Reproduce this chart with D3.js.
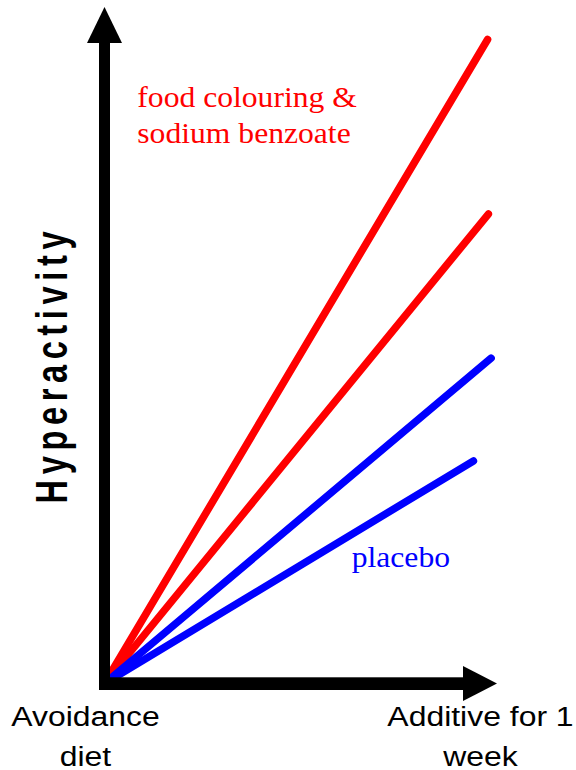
<!DOCTYPE html>
<html>
<head>
<meta charset="utf-8">
<script src="https://cdn.jsdelivr.net/npm/d3@7"></script>
<style>
  html, body { margin: 0; padding: 0; background: #fff; }
  svg { display: block; }
  .sans { font-family: Arial, "Liberation Sans", Arimo, Helvetica, sans-serif; }
  .serif { font-family: "Times New Roman", "Liberation Serif", Tinos, Times, serif; }
</style>
</head>
<body>
<svg id="chart" width="576" height="770"></svg>
<script>
// ---- data ----
const categories = ["Avoidance diet", "Additive for 1 week"];
const categoryLines = [["Avoidance", "diet"], ["Additive for 1", "week"]];
const seriesNames = ["food colouring & sodium benzoate (high)", "food colouring & sodium benzoate (low)", "placebo (high)", "placebo (low)"];
const seriesGroup = ["additive", "additive", "placebo", "placebo"];
const startX = [0, 0, 0, 0];
const startY = [0, 0, 0, 0];
const endX = [0.976, 0.978, 0.985, 0.940];
const endY = [0.952, 0.694, 0.481, 0.329];
const yTitle = "Hyperactivity";
const additiveLabel = ["food colouring &", "sodium benzoate"];
const placeboLabel = ["placebo"];

// ---- layout ----
const W = 576, H = 770;
const x0 = 104.5, y0 = 683.5;
const x = d3.scaleLinear().domain([0, 1]).range([x0, 497]);
const y = d3.scaleLinear().domain([0, 1]).range([y0, 7]);
const colors = { additive: "#ff0000", placebo: "#0000ff" };
const stretch = 1.11;

const svg = d3.select("#chart");
svg.append("rect").attr("width", W).attr("height", H).attr("fill", "#fff");

// lines
const series = seriesNames.map((n, i) => ({
  name: n, group: seriesGroup[i],
  pts: [[startX[i], startY[i]], [endX[i], endY[i]]]
}));
const line = d3.line().x(d => x(d[0])).y(d => y(d[1]));
svg.append("g").selectAll("path")
  .data(series)
  .join("path")
  .attr("d", d => line(d.pts))
  .attr("fill", "none")
  .attr("stroke", d => colors[d.group])
  .attr("stroke-width", 7.5)
  .attr("stroke-linecap", "round");

// axes with arrows
const axes = svg.append("g").attr("fill", "#000");
axes.append("rect").attr("x", 99).attr("y", 42).attr("width", 11).attr("height", 690 - 42);
axes.append("path").attr("d", `M87,43 L122,43 L${x0},7 Z`);
axes.append("rect").attr("x", 99).attr("y", 677.3).attr("width", 464 - 99).attr("height", 12.7);
axes.append("path").attr("d", `M463,666 L463,701 L497,${y0} Z`);

// y title
const tScale = 0.74;
svg.append("g")
  .attr("transform", "translate(67,367.5) rotate(-90)")
  .append("text")
  .attr("class", "sans")
  .attr("transform", `scale(${tScale},1)`)
  .attr("text-anchor", "middle")
  .attr("font-weight", "bold")
  .attr("font-size", 44)
  .attr("textLength", 272 / tScale)
  .attr("lengthAdjust", "spacing")
  .attr("fill", "#000")
  .text(yTitle);

// category labels
const catCenters = [85.5, 480.5];
const baselines = [726.2, 765.5];
categoryLines.forEach((lines, ci) => {
  lines.forEach((t, li) => {
    svg.append("g")
      .attr("transform", `translate(${catCenters[ci]},${baselines[li]}) scale(1.14,1)`)
      .append("text")
      .attr("class", "sans")
      .attr("text-anchor", "middle")
      .attr("font-size", 28)
      .attr("fill", "#000")
      .text(t);
  });
});

// series labels
additiveLabel.forEach((t, i) => {
  svg.append("g")
    .attr("transform", `translate(137.3,${106.7 + i * 36.5}) scale(${stretch},1)`)
    .append("text")
    .attr("class", "serif")
    .attr("font-size", 28.5)
    .attr("fill", colors.additive)
    .text(t);
});
placeboLabel.forEach((t, i) => {
  svg.append("g")
    .attr("transform", `translate(351.7,${566.7 + i * 36.5}) scale(${stretch},1)`)
    .append("text")
    .attr("class", "serif")
    .attr("font-size", 28.5)
    .attr("fill", colors.placebo)
    .text(t);
});
</script>
</body>
</html>
